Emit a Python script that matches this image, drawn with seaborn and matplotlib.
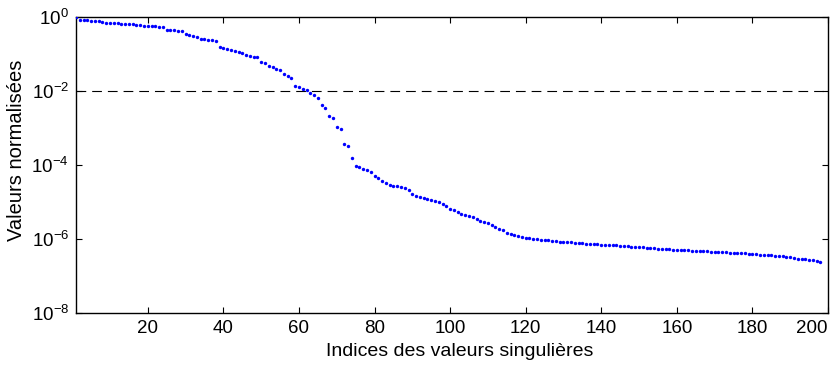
import matplotlib
matplotlib.use("Agg")
import matplotlib.pyplot as plt
import numpy as np
import pandas as pd
import seaborn as sns

# valeurs singulieres normalisees
valeurs = [
    1.0, 0.845, 0.815, 0.81, 0.794, 0.789, 0.765, 0.719, 0.701, 0.689,
    0.684, 0.676, 0.667, 0.655, 0.643, 0.631, 0.615, 0.600, 0.582, 0.571,
    0.567, 0.557, 0.551, 0.537, 0.454, 0.446, 0.435, 0.424, 0.406, 0.347,
    0.332, 0.306, 0.283, 0.262, 0.250, 0.242, 0.234, 0.225, 0.152, 0.143,
    0.137, 0.128, 0.121, 0.111, 0.108, 0.0958, 0.0900, 0.0846, 0.0815, 0.0608,
    0.0561, 0.0483, 0.0454, 0.0386, 0.0362, 0.0282, 0.0259, 0.0220, 0.0134, 0.0126,
    0.0115, 0.0106, 8.99e-3, 7.66e-3, 6.47e-3, 4.11e-3, 3.41e-3, 2.11e-3, 1.83e-3, 1.06e-3,
    9.22e-4, 3.70e-4, 3.20e-4, 1.52e-4, 9.40e-5, 8.99e-5, 7.66e-5, 7.19e-5, 6.47e-5, 4.95e-5,
    4.37e-5, 3.70e-5, 3.20e-5, 2.83e-5, 2.76e-5, 2.71e-5, 2.50e-5, 2.39e-5, 2.07e-5, 1.64e-5,
    1.43e-5, 1.39e-5, 1.26e-5, 1.21e-5, 1.11e-5, 1.08e-5, 1.00e-5, 8.99e-6, 7.80e-6, 6.47e-6,
    6.08e-6, 5.27e-6, 4.74e-6, 4.54e-6, 4.11e-6, 3.86e-6, 3.54e-6, 3.13e-6, 2.88e-6, 2.65e-6,
    2.34e-6, 2.07e-6, 1.83e-6, 1.72e-6, 1.43e-6, 1.36e-6, 1.31e-6, 1.23e-6, 1.15e-6, 1.06e-6,
    1.04e-6, 1.02e-6, 9.82e-7, 9.58e-7, 9.40e-7, 9.22e-7, 8.83e-7, 8.67e-7, 8.46e-7, 8.24e-7,
    8.15e-7, 8.04e-7, 7.89e-7, 7.74e-7, 7.60e-7, 7.46e-7, 7.28e-7, 7.19e-7, 7.10e-7, 7.01e-7,
    6.93e-7, 6.84e-7, 6.76e-7, 6.67e-7, 6.59e-7, 6.47e-7, 6.38e-7, 6.26e-7, 6.15e-7, 6.04e-7,
    5.93e-7, 5.82e-7, 5.71e-7, 5.61e-7, 5.51e-7, 5.40e-7, 5.33e-7, 5.24e-7, 5.18e-7, 5.11e-7,
    5.05e-7, 4.98e-7, 4.92e-7, 4.86e-7, 4.80e-7, 4.74e-7, 4.68e-7, 4.62e-7, 4.56e-7, 4.51e-7,
    4.45e-7, 4.40e-7, 4.34e-7, 4.29e-7, 4.24e-7, 4.18e-7, 4.13e-7, 4.06e-7, 3.98e-7, 3.91e-7,
    3.86e-7, 3.79e-7, 3.72e-7, 3.65e-7, 3.58e-7, 3.52e-7, 3.45e-7, 3.37e-7, 3.26e-7, 3.20e-7,
    3.01e-7, 2.95e-7, 2.90e-7, 2.84e-7, 2.79e-7, 2.67e-7, 2.54e-7, 2.34e-7,
]
indices = list(range(1, len(valeurs) + 1))
seuil = 1e-2

x_ticks = [20, 40, 60, 80, 100, 120, 140, 160, 180, 200]
y_ticks = [1e-8, 1e-6, 1e-4, 1e-2, 1e0]

sns.set_style("ticks")
plt.rcParams['font.family'] = ['Liberation Sans', 'DejaVu Sans']
plt.rcParams['mathtext.default'] = 'regular'
plt.rcParams['lines.scale_dashes'] = False
for k in ['text.color', 'axes.labelcolor', 'xtick.color', 'ytick.color', 'axes.edgecolor']:
    plt.rcParams[k] = 'black'

df = pd.DataFrame({"indice": indices, "valeur": valeurs})

fig = plt.figure(figsize=(8.4, 3.65), dpi=100)
ax = fig.add_axes([0.0905, 0.1425, 0.8952, 0.8109])

ax.set_yscale('log')
sns.scatterplot(data=df, x="indice", y="valeur", ax=ax, color='blue',
                s=6, linewidth=0, marker='o', zorder=3)
ax.axhline(seuil, color='black', linewidth=0.8, linestyle=(0, (7, 4.3)), zorder=2)

ax.set_xlim(1, 200)
ax.set_ylim(1e-8, 1e0)
ax.set_xticks(x_ticks)
ax.set_yticks(y_ticks)
ax.yaxis.set_minor_locator(matplotlib.ticker.NullLocator())

ax.tick_params(direction='in', top=True, right=True, length=4.5, width=0.8,
               labelsize=13.5, pad=5)
for s in ax.spines.values():
    s.set_linewidth(1.0)
    s.set_color('black')

# le dernier label colle au bord droit
fig.canvas.draw()
ax.get_xticklabels()[-1].set_horizontalalignment('right')
ax.get_xticklabels()[-1].set_x(200.5)

ax.set_xlabel("Indices des valeurs singulières", fontsize=14)
ax.set_ylabel("Valeurs normalisées", fontsize=14.5)
ax.xaxis.set_label_coords(0.51, -0.102)
ax.yaxis.set_label_coords(-0.066, 0.55)

fig.savefig("out.png", dpi=100)
